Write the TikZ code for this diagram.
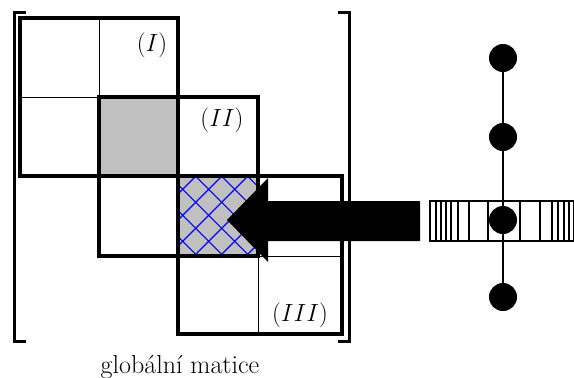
\documentclass[tikz,border=0pt]{standalone}
\begin{document}
\begin{tikzpicture}[x=1pt,y=-1pt,
  thickbox/.style={line width=3.6pt},
  thinline/.style={line width=1pt},
  bracket/.style={line width=3pt},
  lbl/.style={font=\fontsize{24}{28}\selectfont, inner sep=0pt},
  dot/.style={circle, fill=black, minimum size=28pt, inner sep=0pt},
  hatchline/.style={blue, line width=1.1pt},
  barline/.style={line width=2.2pt}]
\useasboundingbox (0,0) rectangle (574,378);
\definecolor{cellgray}{RGB}{192,192,192}
% shaded cells
\fill[cellgray] (99,97) rectangle (178,176);
\fill[cellgray] (178,176) rectangle (258,256);
\begin{scope}
  \clip (178,176) rectangle (258,256);
  \foreach \k in {-6,...,6} {
    \pgfmathsetmacro{\c}{-6.6+26*\k}
    \draw[hatchline] (170,170-\c) -- (266,266-\c);
    \pgfmathsetmacro{\d}{398+26*\k}
    \draw[hatchline] (170,\d-170) -- (266,\d-266);
  }
\end{scope}
% thin inner lines
\draw[thinline] (99,18) -- (99,97);
\draw[thinline] (20,97) -- (99,97);
\draw[thinline] (258,256) -- (258,334);
\draw[thinline] (258,256) -- (342,256);
% blocks
\draw[thickbox] (20,18) rectangle (178,176);
\draw[thickbox] (99,97) rectangle (258,256);
\draw[thickbox] (178,176) rectangle (342,334);
% brackets
\draw[bracket] (26,12) -- (14,12) -- (14,341) -- (26,341);
\draw[bracket] (338,12) -- (349,12) -- (349,341) -- (338,341);
% labels
\node[lbl] (l1) at (152,45) {$(I)$};
\node[lbl] (l2) at (222,120) {$(II)$};
\node[lbl] (l3) at (300,315) {$(III)$};
\node[lbl, font=\fontsize{26}{30}\selectfont, anchor=base] (cap) at (180,373) {globální matice};
% big arrow
\fill[black] (420,201) -- (268,201) -- (268,178) -- (227,220) -- (268,262) -- (268,241) -- (420,241) -- cycle;
% bar
\fill[white] (430,201) rectangle (574,241);
\foreach \x in {436,441,446,451,458,469,488,520,540,552,558,564,569}
  \draw[barline] (\x,201) -- (\x,241);
\draw[barline] (430,201) rectangle (574,241);
% rod
\coordinate (c1) at (503,58);
\coordinate (c2) at (503,137);
\coordinate (c3) at (503,220);
\coordinate (c4) at (503,297);
\draw[line width=2.6pt] (c1) -- (c4);
\node[dot] (n1) at (c1) {};
\node[dot] (n2) at (c2) {};
\node[dot] (n3) at (c3) {};
\node[dot] (n4) at (c4) {};
\end{tikzpicture}
\end{document}
